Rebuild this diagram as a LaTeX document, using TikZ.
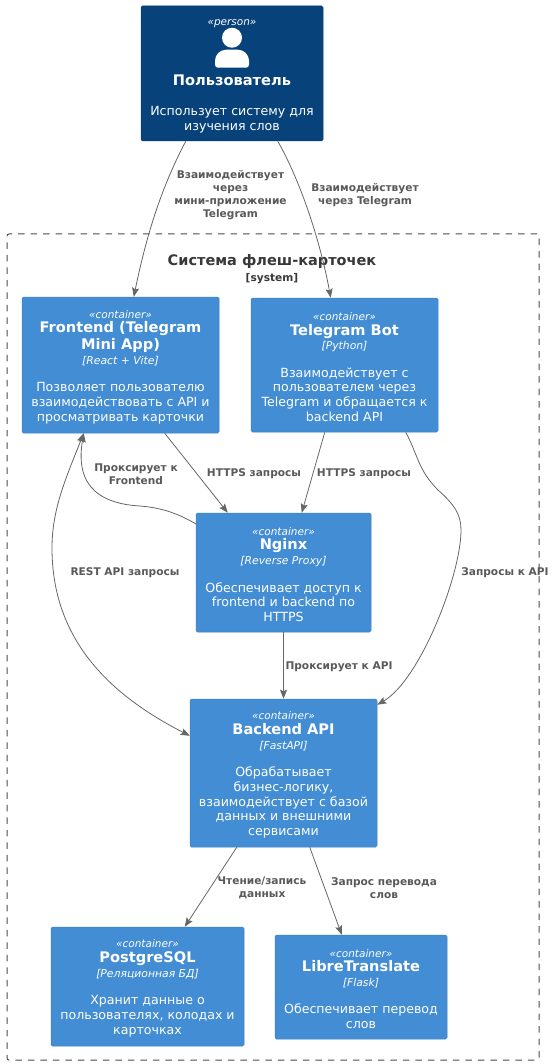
\documentclass[tikz,border=0pt]{standalone}
\usepackage{fontspec}
\setmainfont{DejaVu Sans}
\usetikzlibrary{arrows.meta, positioning}

\definecolor{personblue}{HTML}{08427B}
\definecolor{contblue}{HTML}{438DD5}
\definecolor{contedge}{HTML}{3C7FC0}
\definecolor{relgray}{HTML}{666666}
\newcommand{\stereotxt}[1]{{\fontsize{10.5}{15}\selectfont\itshape\rule{0pt}{12pt}#1}}
\newcommand{\titletxt}[1]{{\fontsize{14.6}{17}\selectfont\bfseries #1}}
\newcommand{\techtxt}[1]{{\fontsize{10.8}{15}\selectfont\itshape #1}}

\begin{document}
\begin{tikzpicture}[
            x=1pt, y=-1pt,
            person/.style={draw=personblue!90!black, fill=personblue, rounded corners=1.5pt,
                    text=white, align=center, inner sep=0pt, line width=0.5pt,
                    font=\fontsize{12.6}{14.8}\selectfont},
            container/.style={draw=contedge, fill=contblue, rounded corners=1.5pt,
                    text=white, align=center, inner sep=0pt, line width=0.5pt,
                    font=\fontsize{12.6}{14.8}\selectfont},
            sysbox/.style={draw=black!70, dashed, dash pattern=on 6.5pt off 6pt, rounded corners=2pt,
                    line width=1pt, inner sep=0pt},
            rel/.style={-{Stealth[length=9pt, width=7pt, inset=1.5pt]}, line width=0.8pt, color=relgray},
            rellabel/.style={font=\fontsize{10.6}{13}\selectfont\bfseries, text=black!65, align=center, inner sep=0pt}
        ]
        \useasboundingbox (0,0) rectangle (555,1064);

        % System boundary
        \node[sysbox, minimum width=532pt, minimum height=826pt] (system) at (273,647) {};
        \node[font=\fontsize{14.5}{17}\selectfont\bfseries, text=black!78, inner sep=0pt] (systitle) at (272,261) {Система флеш-карточек};
        \node[font=\fontsize{10.6}{13}\selectfont\bfseries, text=black!78, inner sep=0pt, below=8pt of systitle.base] (systag) {[system]};

        % Person
        \node[person, minimum width=182pt, minimum height=135pt] (user) at (232,73.5)
            {\stereotxt{«person»}\\[45pt]\titletxt{Пользователь}\\[15pt]Использует систему для\\изучения слов};
        \fill[white] ([yshift=-32pt]user.north) circle (10pt);
        \fill[white, rounded corners=3pt] ([xshift=-17pt,yshift=-62pt]user.north)
            [rounded corners=11pt] -- ([xshift=-17pt,yshift=-44pt]user.north) -- ([xshift=17pt,yshift=-44pt]user.north)
            [rounded corners=3pt] -- ([xshift=17pt,yshift=-62pt]user.north) -- cycle;

        % Containers
        \node[container, minimum width=197pt, minimum height=136pt] (frontend) at (120.5,365)
            {\stereotxt{«container»}\\\titletxt{Frontend (Telegram}\\[2pt]\titletxt{Mini App)}\\\techtxt{[React + Vite]}\\[12.5pt]Позволяет пользователю\\взаимодействовать с API и\\просматривать карточки};
        \node[container, minimum width=187pt, minimum height=134pt] (bot) at (344.5,365)
            {\stereotxt{«container»}\\\titletxt{Telegram Bot}\\\techtxt{[Python]}\\[12.5pt]Взаимодействует с\\пользователем через\\Telegram и обращается к\\backend API};
        \node[container, minimum width=175pt, minimum height=119pt] (nginx) at (283.5,572.5)
            {\stereotxt{«container»}\\\titletxt{Nginx}\\\techtxt{[Reverse Proxy]}\\[12.5pt]Обеспечивает доступ к\\frontend и backend по\\HTTPS};
        \node[container, minimum width=187pt, minimum height=148pt] (backend) at (283.5,773)
            {\stereotxt{«container»}\\\titletxt{Backend API}\\\techtxt{[FastAPI]}\\[12.5pt]Обрабатывает\\бизнес-логику,\\взаимодействует с базой\\данных и внешними\\сервисами};
        \node[container, minimum width=193pt, minimum height=119pt] (postgres) at (147.5,986.5)
            {\stereotxt{«container»}\\\titletxt{PostgreSQL}\\\techtxt{[Реляционная БД]}\\[12.5pt]Хранит данные о\\пользователях, колодах и\\карточках};
        \node[container, minimum width=172pt, minimum height=104pt] (libre) at (361,987)
            {\stereotxt{«container»}\\\titletxt{LibreTranslate}\\\techtxt{[Flask]}\\[12.5pt]Обеспечивает перевод\\слов};

        % Arrows
        \draw[rel] ([xshift=45pt]user.south west) .. controls (160,190) and (146,238) .. ([xshift=112pt]frontend.north west);
        \draw[rel] ([xshift=137pt]user.south west) .. controls (300,180) and (320,240) .. ([xshift=80pt]bot.north west);
        \draw[rel] ([xshift=143pt]frontend.south west) -- ([xshift=32pt]nginx.north west);
        \draw[rel] ([xshift=74pt]bot.south west) -- ([xshift=106pt]nginx.north west);
        \draw[rel] ([yshift=-11pt]nginx.north west) .. controls (180,515) and (165,508) .. (140,506) .. controls (105,504) and (74,490) .. ([xshift=62pt]frontend.south west);
        \draw[rel, {Stealth[length=9pt, width=7pt, inset=1.5pt]}-{Stealth[length=9pt, width=7pt, inset=1.5pt]}] ([xshift=62pt]frontend.south west) .. controls (65,480) and (52,510) .. (52,548) .. controls (52,640) and (110,695) .. ([yshift=-37pt]backend.north west);
        \draw[rel] ([xshift=155pt]bot.south west) .. controls (418,455) and (418,470) .. (438,490) .. controls (455,505) and (461,515) .. (461,530) .. controls (461,575) and (420,680) .. ([yshift=-6pt]backend.north east);
        \draw[rel] (nginx.south) -- (backend.north);
        \draw[rel] ([xshift=47pt]backend.south west) -- ([xshift=134pt]postgres.north west);
        \draw[rel] ([xshift=120pt]backend.south west) -- ([xshift=67pt]libre.north west);

        % Arrow labels
        \node[rellabel] (lblmini) at (230.5,195) {Взаимодействует\\через\\мини-приложение\\Telegram};
        \node[rellabel] (lbltg) at (365,195) {Взаимодействует\\через Telegram};
        \node[rellabel] (lblfront) at (136,474) {Проксирует к\\Frontend};
        \node[rellabel] (lblhttps) at (254,474) {HTTPS запросы};
        \node[rellabel] (lblhttpsbot) at (364,474) {HTTPS запросы};
        \node[rellabel] (lblrest) at (125,573) {REST API запросы};
        \node[rellabel] (lblapi) at (505,573) {Запросы к API};
        \node[rellabel] (lblproxy) at (339,667) {Проксирует к API};
        \node[rellabel] (lbldata) at (262,888) {Чтение/запись\\данных};
        \node[rellabel] (lbltrans) at (384,888) {Запрос перевода\\слов};

    \end{tikzpicture}
\end{document}
